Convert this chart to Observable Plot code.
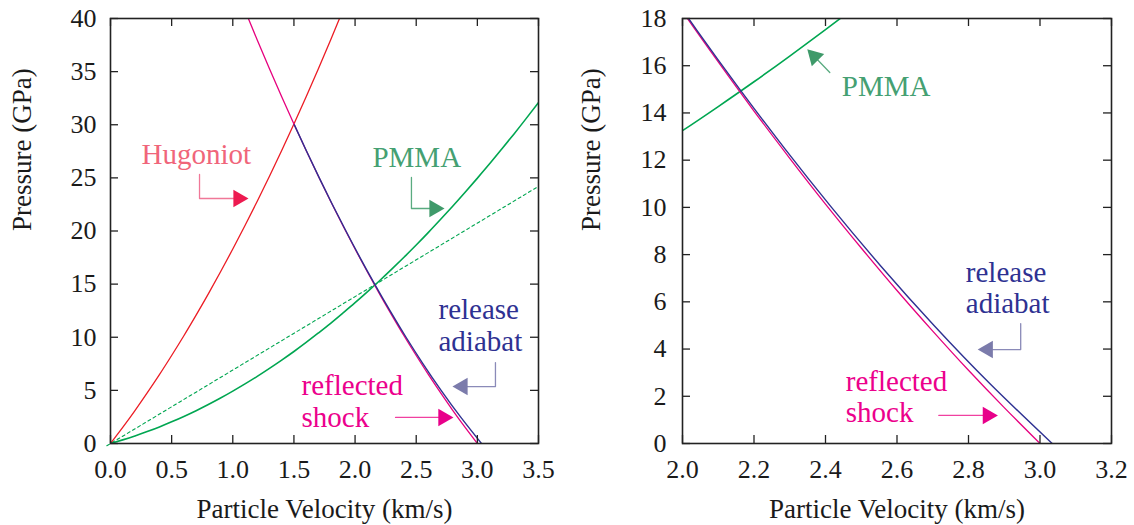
<!DOCTYPE html>
<html><head><meta charset="utf-8">
<script src="https://cdn.jsdelivr.net/npm/d3@7"></script>
<script src="https://cdn.jsdelivr.net/npm/@observablehq/plot@0.6"></script>
<style>
body{margin:0;background:#fff;}
#wrap{display:flex;width:1134px;height:525px;overflow:hidden;}
</style></head><body><div id="wrap"></div>
<script>
// ---- Curves (particle velocity km/s, pressure GPa) ----
const hugoniotU = [0,0.1,0.2,0.3,0.4,0.5,0.6,0.7,0.8,0.9,1.0,1.1,1.2,1.3,1.4,1.5,1.6,1.7,1.8,1.9];
const hugoniotP = [0,1.52,3.10,4.76,6.48,8.28,10.14,12.08,14.08,16.16,18.30,20.52,22.80,25.16,27.58,30.08,32.64,35.28,37.98,40.76];

const reflectedU = [1.1,1.2,1.3,1.4,1.5,1.6,1.7,1.8,1.9,2.0,2.1,2.2,2.3,2.4,2.5,2.6,2.7,2.8,2.9,3.0];
const reflectedP = [40.76,37.98,35.28,32.64,30.08,27.58,25.16,22.80,20.52,18.30,16.16,14.08,12.08,10.14,8.28,6.48,4.76,3.10,1.52,0];

const releaseU = [1.503,1.6036,1.7072,1.8145,1.9255,2.0404,2.1603,2.2855,2.4169,2.5557,2.7036,2.8623,3.034];
const releaseP = [30,27.5,25,22.5,20,17.5,15,12.5,10,7.5,5,2.5,0];

const pmmaU = [0,0.1,0.2,0.3,0.4,0.5,0.6,0.7,0.8,0.9,1.0,1.1,1.2,1.3,1.4,1.5,1.6,1.7,1.8,1.9,2.0,2.1,2.2,2.3,2.4,2.5,2.6,2.7,2.8,2.9,3.0,3.1,3.2,3.3,3.4,3.5];
const pmmaP = [0,0.34,0.71,1.12,1.56,2.04,2.55,3.09,3.67,4.28,4.93,5.61,6.32,7.07,7.85,8.66,9.51,10.40,11.31,12.27,13.25,14.27,15.32,16.41,17.53,18.68,19.87,21.10,22.35,23.64,24.97,26.32,27.72,29.14,30.60,32.10];

const rayleighU = [-0.03,3.5];
const rayleighP = [-0.21,24.2];

// ---- Axes ----
const leftXTicks = [0,0.5,1.0,1.5,2.0,2.5,3.0,3.5];
const leftYTicks = [0,5,10,15,20,25,30,35,40];
const rightXTicks = [2.0,2.2,2.4,2.6,2.8,3.0,3.2];
const rightYTicks = [0,2,4,6,8,10,12,14,16,18];
const xTitle = "Particle Velocity (km/s)";
const yTitle = "Pressure (GPa)";

// ---- Annotations (data units) ----
const leftLabelText = ["Hugoniot","PMMA","release","adiabat","reflected","shock"];
const leftLabelU = [0.254,2.142,2.682,2.682,1.562,1.562];
const leftLabelP = [26.35,25.98,11.76,8.66,4.61,1.60];
const leftArrowU = [[0.728,0.728,1.046],[2.461,2.461,2.649],[3.148,3.148,2.879],[2.331,2.722]];
const leftArrowP = [[25.32,23.06,23.06],[25.04,22.12,22.12],[7.62,5.36,5.36],[2.45,2.45]];
const leftHeadU = [1.046,2.649,2.879,2.722];
const leftHeadP = [23.06,22.12,5.36,2.45];
const leftHeadRot = [90,90,270,90];

const rightLabelText = ["PMMA","release","adiabat","reflected","shock"];
const rightLabelU = [2.4456,2.7925,2.7925,2.4568,2.4568];
const rightLabelP = [14.70,6.83,5.51,2.24,0.89];
const rightArrowU = [[2.412,2.369],[2.946,2.946,2.854],[2.717,2.854]];
const rightArrowP = [[15.71,16.39],[5.08,3.98,3.98],[1.19,1.19]];
const rightHeadU = [2.369,2.854,2.854];
const rightHeadP = [16.39,3.98,1.19];
const rightHeadRot = [315,270,90];

// ---- Styles ----
const C = {
  hug: "#ec1c24", refl: "#e6007e", rel: "#2e3192", pmma: "#00a651",
  hugLabel: "#f0657a", hugArrow: "#f07898", hugHead: "#ed1a50",
  pmmaLabel: "#45a072", pmmaArrow: "#5aab80", pmmaHead: "#3f9a6a",
  relLabel: "#2e3192", relArrow: "#8a8ab8", relHead: "#7b7bab",
  reflLabel: "#ec008c", reflArrow: "#f040a0", reflHead: "#e8008a"
};
const leftLabelColor = [C.hugLabel,C.pmmaLabel,C.relLabel,C.relLabel,C.reflLabel,C.reflLabel];
const leftArrowColor = [C.hugArrow,C.pmmaArrow,C.relArrow,C.reflArrow];
const leftHeadColor = [C.hugHead,C.pmmaHead,C.relHead,C.reflHead];
const rightLabelColor = [C.pmmaLabel,C.relLabel,C.relLabel,C.reflLabel,C.reflLabel];
const rightArrowColor = [C.pmmaArrow,C.relArrow,C.reflArrow];
const rightHeadColor = [C.pmmaHead,C.relHead,C.reflHead];

const zip = (U, P) => U.map((u, i) => ({u, p: P[i]}));

function panel(cfg) {
  const W = 567, H = 525, mt = 18, mb = 82;
  const fw = W - cfg.ml - cfg.mr, fh = H - mt - mb, tl = 8;
  const marks = [];
  // curves
  if (cfg.rayleigh) marks.push(Plot.line(zip(rayleighU, rayleighP), {x: "u", y: "p", stroke: C.pmma, strokeWidth: 1.1, strokeDasharray: "3,3"}));
  if (cfg.hugoniot) marks.push(Plot.line(zip(hugoniotU, hugoniotP), {x: "u", y: "p", stroke: C.hug, strokeWidth: 1.3, curve: "natural", clip: true}));
  marks.push(Plot.line(zip(pmmaU, pmmaP), {x: "u", y: "p", stroke: C.pmma, strokeWidth: 1.6, curve: "natural", clip: true}));
  marks.push(Plot.line(zip(reflectedU, reflectedP), {x: "u", y: "p", stroke: C.refl, strokeWidth: 1.3, curve: "natural", clip: true}));
  marks.push(Plot.line(zip(releaseU, releaseP), {x: "u", y: "p", stroke: C.rel, strokeWidth: 1.4, curve: "natural", clip: true}));
  // annotations
  cfg.arrowU.forEach((U, i) => {
    marks.push(Plot.line(zip(U, cfg.arrowP[i]), {x: "u", y: "p", stroke: cfg.arrowColor[i], strokeWidth: 1.3}));
  });
  const heads = cfg.headU.map((u, i) => ({u, p: cfg.headP[i], r: cfg.headRot[i], c: cfg.headColor[i]}));
  marks.push(Plot.dot(heads, {x: "u", y: "p", rotate: "r", fill: "c", stroke: "none", symbol: "triangle", r: 6.5}));
  const labels = cfg.labelText.map((t, i) => ({t, u: cfg.labelU[i], p: cfg.labelP[i], c: cfg.labelColor[i]}));
  marks.push(Plot.text(labels, {x: "u", y: "p", text: "t", fill: "c", textAnchor: "start", lineAnchor: "bottom", fontSize: 29}));
  // inward ticks on all four sides
  marks.push(Plot.tickX(cfg.xTicks, {x: d => d, stroke: "#222", strokeWidth: 1.3, insetTop: fh - tl}));
  marks.push(Plot.tickX(cfg.xTicks, {x: d => d, stroke: "#222", strokeWidth: 1.3, insetBottom: fh - tl}));
  marks.push(Plot.tickY(cfg.yTicks, {y: d => d, stroke: "#222", strokeWidth: 1.3, insetRight: fw - tl}));
  marks.push(Plot.tickY(cfg.yTicks, {y: d => d, stroke: "#222", strokeWidth: 1.3, insetLeft: fw - tl}));
  marks.push(Plot.frame({stroke: "#222", strokeWidth: 1.6}));
  // axis titles
  marks.push(Plot.text([xTitle], {frameAnchor: "bottom", text: d => d, dy: 74, lineAnchor: "bottom", fontSize: 27, fill: "#1a1a1a"}));
  marks.push(Plot.text([yTitle], {frameAnchor: "left", text: d => d, dx: cfg.yTitleDx, rotate: -90, lineAnchor: "middle", fontSize: 27, fill: "#1a1a1a"}));
  return Plot.plot({
    width: W, height: H,
    marginLeft: cfg.ml, marginRight: cfg.mr, marginTop: mt, marginBottom: mb,
    style: {fontFamily: "'Liberation Serif', 'Times New Roman', serif", fontSize: "26px", color: "#1a1a1a", background: "white", overflow: "visible"},
    x: {domain: cfg.xDomain, ticks: cfg.xTicks, tickFormat: d3.format(".1f"), tickSize: 0, tickPadding: 16, label: null},
    y: {domain: cfg.yDomain, ticks: cfg.yTicks, tickFormat: d => String(d), tickSize: 0, tickPadding: cfg.yPad, label: null},
    marks
  });
}

const wrap = document.getElementById("wrap");
wrap.appendChild(panel({
  ml: 110, mr: 29, xDomain: [0, 3.5], yDomain: [0, 40], xTicks: leftXTicks, yTicks: leftYTicks, yPad: 14, yTitleDx: -88,
  rayleigh: true, hugoniot: true,
  labelText: leftLabelText, labelU: leftLabelU, labelP: leftLabelP, labelColor: leftLabelColor,
  arrowU: leftArrowU, arrowP: leftArrowP, arrowColor: leftArrowColor,
  headU: leftHeadU, headP: leftHeadP, headRot: leftHeadRot, headColor: leftHeadColor
}));
wrap.appendChild(panel({
  ml: 115, mr: 23, xDomain: [2.0, 3.2], yDomain: [0, 18], xTicks: rightXTicks, yTicks: rightYTicks, yPad: 16, yTitleDx: -91,
  rayleigh: false, hugoniot: false,
  labelText: rightLabelText, labelU: rightLabelU, labelP: rightLabelP, labelColor: rightLabelColor,
  arrowU: rightArrowU, arrowP: rightArrowP, arrowColor: rightArrowColor,
  headU: rightHeadU, headP: rightHeadP, headRot: rightHeadRot, headColor: rightHeadColor
}));
</script></body></html>
